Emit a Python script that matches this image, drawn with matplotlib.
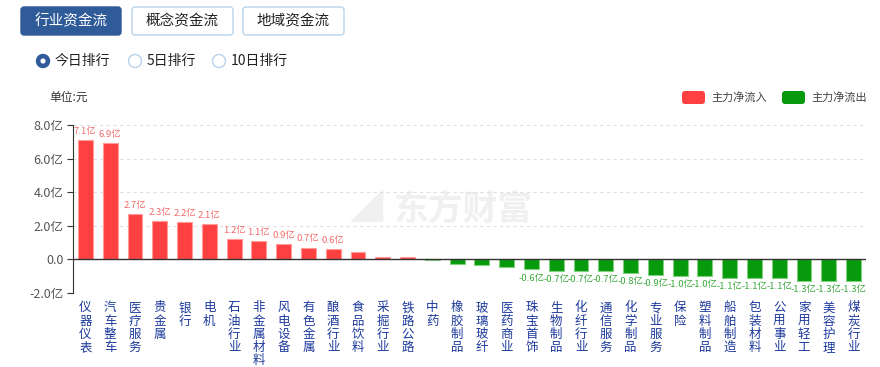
import numpy as np
import matplotlib
matplotlib.use("Agg")
import matplotlib.pyplot as plt
from matplotlib.patches import FancyBboxPatch, Circle

plt.rcParams['font.family'] = ['Noto Sans CJK SC', 'DejaVu Sans']

#%% data
industries = ["仪器仪表", "汽车整车", "医疗服务", "贵金属", "银行", "电机", "石油行业",
              "非金属材料", "风电设备", "有色金属", "酿酒行业", "食品饮料", "采掘行业",
              "铁路公路", "中药", "橡胶制品", "玻璃玻纤", "医药商业", "珠宝首饰", "生物制品",
              "化纤行业", "通信服务", "化学制品", "专业服务", "保险", "塑料制品", "船舶制造",
              "包装材料", "公用事业", "家用轻工", "美容护理", "煤炭行业"]
net_flow = [7.1, 6.9, 2.7, 2.3, 2.2, 2.1, 1.2, 1.1, 0.9, 0.7, 0.6, 0.45, 0.15,
            0.12, -0.05, -0.25, -0.35, -0.45, -0.6, -0.7, -0.7, -0.7, -0.8, -0.9,
            -1.0, -1.0, -1.1, -1.1, -1.1, -1.3, -1.3, -1.3]
y_ticks = [-2, 0, 2, 4, 6, 8]
y_ticklabels = ["-2.0亿", "0.0", "2.0亿", "4.0亿", "6.0亿", "8.0亿"]

red = "#ff4040"
green = "#079a0c"

W, H = 880, 367
fig = plt.figure(figsize=[W / 100, H / 100], dpi=100)

#%% page decorations (buttons, radios, legend)
ui = fig.add_axes([0, 0, 1, 1])
ui.set_xlim(0, W)
ui.set_ylim(H, 0)
ui.axis('off')

buttons = ["行业资金流", "概念资金流", "地域资金流"]
for i, b in enumerate(buttons):
    bx = 21 + i * 111
    if i == 0:
        ui.add_patch(FancyBboxPatch((bx, 7), 100, 28, boxstyle="round,pad=0,rounding_size=3",
                                    fc="#2f5b98", ec="#2f5b98", lw=1))
        ui.text(bx + 50, 21.5, b, color="white", fontsize=10.5, ha="center", va="center")
    else:
        ui.add_patch(FancyBboxPatch((bx, 7), 101, 28, boxstyle="round,pad=0,rounding_size=3",
                                    fc="white", ec="#b9d3ea", lw=1))
        ui.text(bx + 50.5, 21.5, b, color="#222222", fontsize=10.5, ha="center", va="center")

radios = ["今日排行", "5日排行", "10日排行"]
radio_x = [43, 135, 219]
for i, r in enumerate(radios):
    if i == 0:
        ui.add_patch(Circle((radio_x[i], 61), 6.5, fc="#2f5b98", ec="#2f5b98"))
        ui.add_patch(Circle((radio_x[i], 61), 2.6, fc="white", ec="none"))
    else:
        ui.add_patch(Circle((radio_x[i], 61), 6.5, fc="white", ec="#b9d3ea", lw=1))
    ui.text(radio_x[i] + 12, 61, r, color="#222222", fontsize=10, ha="left", va="center")

ui.text(49, 97, "单位:元", color="#333333", fontsize=8.5, ha="left", va="center")

ui.add_patch(FancyBboxPatch((682, 91), 23, 13, boxstyle="round,pad=0,rounding_size=3",
                            fc=red, ec="none"))
ui.text(711, 97.5, "主力净流入", color="#444444", fontsize=8, ha="left", va="center")
ui.add_patch(FancyBboxPatch((782, 91), 23, 13, boxstyle="round,pad=0,rounding_size=3",
                            fc=green, ec="none"))
ui.text(811, 97.5, "主力净流出", color="#444444", fontsize=8, ha="left", va="center")

# watermark
ui.text(463, 209, "东方财富", color="#f0f0f0", fontsize=25, fontweight="bold",
        ha="center", va="center", zorder=0)
ui.text(367, 209, "◢", color="#f0f0f0", fontsize=24, ha="center", va="center", zorder=0)

#%% chart
x0, x1, ytop, ybot = 73, 866, 125, 293
ax = fig.add_axes([x0 / W, 1 - ybot / H, (x1 - x0) / W, (ybot - ytop) / H])
ax.patch.set_alpha(0)

vals = np.array(net_flow)
xs = np.arange(len(vals))
colors = [red if v > 0 else green for v in vals]
edges = ["#ff9a9a" if v > 0 else "#7fd07f" for v in vals]
ax.bar(xs, vals, width=0.6, color=colors, edgecolor=edges, linewidth=0.8, zorder=3)

for x, v in zip(xs, vals):
    if abs(v) < 0.55:
        continue
    if v > 0:
        ax.annotate(f"{v:.1f}亿", (x, v), xytext=(0, 3), textcoords="offset points",
                    ha="center", va="bottom", fontsize=6.8, color="#f36b6b")
    else:
        ax.annotate(f"{v:.1f}亿", (x, v), xytext=(0, -3), textcoords="offset points",
                    ha="center", va="top", fontsize=6.8, color="#3aa83a")

ax.set_xlim(-0.5, len(vals) - 0.5)
ax.set_ylim(-2, 8)
ax.set_yticks(y_ticks)
ax.set_yticklabels(y_ticklabels, fontsize=9, color="#555555")
ax.set_xticks(xs)
ax.set_xticklabels(["\n".join(n) for n in industries], fontsize=9, color="#1d3a9c",
                   linespacing=1.02, va="top")
ax.tick_params(axis='x', length=0, pad=6)
ax.tick_params(axis='y', length=4, color="#333333", pad=3)

for t in [2, 4, 6, 8]:
    ax.axhline(t, color="#e0e0e0", lw=0.8, ls=(0, (3, 3)), zorder=1)
ax.axhline(-2, color="#dddddd", lw=0.8, ls=(0, (3, 3)), zorder=1)
ax.axhline(0, color="#333333", lw=1, zorder=4)

for s in ["top", "right", "bottom"]:
    ax.spines[s].set_visible(False)
ax.spines["left"].set_color("#333333")

fig.savefig("out.png", dpi=100)
